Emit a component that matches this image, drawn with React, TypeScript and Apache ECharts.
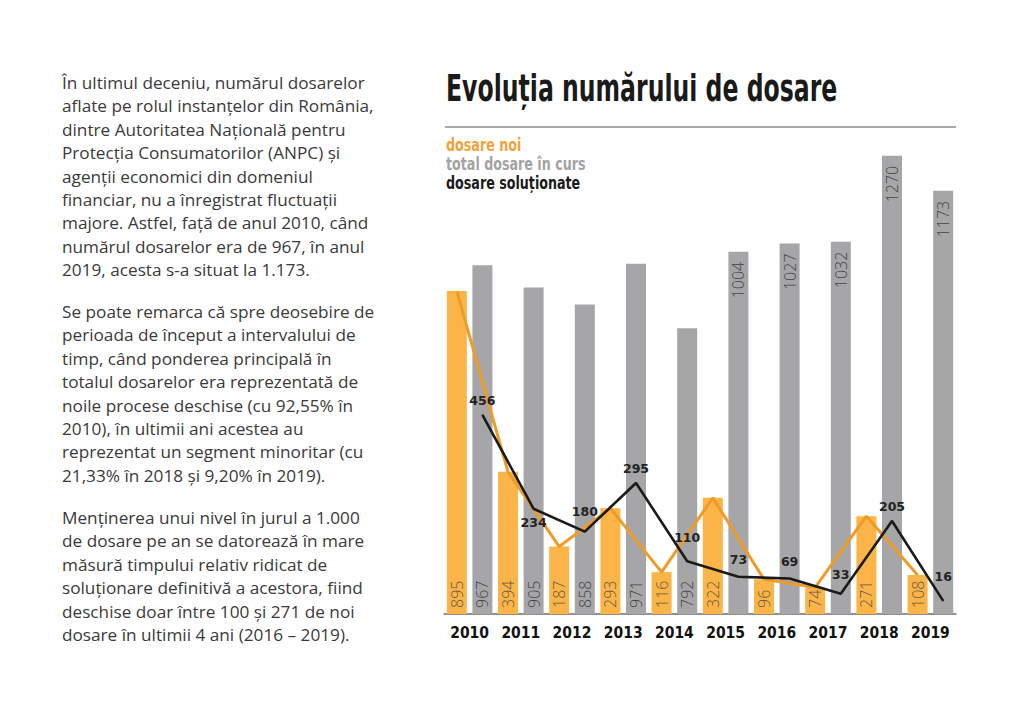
import React, { useEffect, useRef } from "react";
import * as echarts from "echarts";

const years = ["2010", "2011", "2012", "2013", "2014", "2015", "2016", "2017", "2018", "2019"];
const dosareNoi = [895, 394, 187, 293, 116, 322, 96, 74, 271, 108];
const totalInCurs = [967, 905, 858, 971, 792, 1004, 1027, 1032, 1270, 1173];
const dosareSolutionate = [456, 234, 180, 295, 110, 73, 69, 33, 205, 16];

const titleText = "Evoluția numărului de dosare";
const legendTexts = ["dosare noi", "total dosare în curs", "dosare soluționate"];

const paragraphs = [
  [
    "În ultimul deceniu, numărul dosarelor",
    "aflate pe rolul instanțelor din România,",
    "dintre Autoritatea Națională pentru",
    "Protecția Consumatorilor (ANPC) și",
    "agenții economici din domeniul",
    "financiar, nu a înregistrat fluctuații",
    "majore. Astfel, față de anul 2010, când",
    "numărul dosarelor era de 967, în anul",
    "2019, acesta s-a situat la 1.173.",
  ],
  [
    "Se poate remarca că spre deosebire de",
    "perioada de început a intervalului de",
    "timp, când ponderea principală în",
    "totalul dosarelor era reprezentată de",
    "noile procese deschise (cu 92,55% în",
    "2010), în ultimii ani acestea au",
    "reprezentat un segment minoritar (cu",
    "21,33% în 2018 și 9,20% în 2019).",
  ],
  [
    "Menținerea unui nivel în jurul a 1.000",
    "de dosare pe an se datorează în mare",
    "măsură timpului relativ ridicat de",
    "soluționare definitivă a acestora, fiind",
    "deschise doar între 100 și 271 de noi",
    "dosare în ultimii 4 ani (2016 – 2019).",
  ],
];

// styling helpers (not data)
const blackLabelDistance = [7, 7, 13, 8, 17, 10, 10, 12, 8, 17];
const blackLabelPos = ["top", "bottom", "top", "top", "top", "top", "top", "top", "top", "top"];

const ORANGE = "#fbb447";
const ORANGE_LINE = "#ef9b28";
const GRAY = "#a6a6a8";
const NARROW = "'DejaVu Sans Condensed', 'DejaVu Sans', sans-serif";
const BODY = "'Open Sans', 'Noto Sans', sans-serif";

export default function App() {
  const ref = useRef<HTMLDivElement>(null);

  useEffect(() => {
    if (!ref.current) return;
    const chart = echarts.init(ref.current, undefined, { renderer: "svg" });

    const slots: string[] = [];
    years.forEach((y) => {
      slots.push(y + "-n");
      slots.push(y + "-t");
    });

    const orangeBars = slots.map((_, i) => (i % 2 === 0 ? dosareNoi[i / 2] : "-"));
    const grayBars = slots.map((_, i) => {
      if (i % 2 === 0) return "-";
      const v = totalInCurs[(i - 1) / 2];
      if (v >= 1000) {
        return { value: v, label: { position: "insideTop", align: "right", distance: 10 } };
      }
      return v;
    });
    const orangeLine = slots.map((_, i) => (i % 2 === 0 ? dosareNoi[i / 2] : "-"));
    const blackLine = slots.map((_, i) => {
      if (i % 2 === 0) return "-";
      const k = (i - 1) / 2;
      return {
        value: dosareSolutionate[k],
        label: { position: blackLabelPos[k], distance: blackLabelDistance[k] },
      };
    });

    const barLabel = {
      show: true,
      position: "insideBottom",
      rotate: 90,
      align: "left",
      verticalAlign: "middle",
      distance: 6,
      fontSize: 16,
      fontFamily: BODY,
      fontWeight: 300,
    };

    const graphics: any[] = [
      {
        type: "text",
        x: 446,
        y: 88,
        scaleX: 0.69,
        style: {
          text: titleText,
          font: `bold 38px ${NARROW}`,
          fill: "#1a1a1a",
          textVerticalAlign: "middle",
        },
      },
      {
        type: "line",
        shape: { x1: 445, y1: 127, x2: 956, y2: 127 },
        style: { stroke: "#555", lineWidth: 1.2 },
      },
    ];
    const legendColors = ["#f0a33a", "#a3a3a3", "#1a1a1a"];
    legendTexts.forEach((t, i) => {
      graphics.push({
        type: "text",
        x: 446,
        y: 146 + i * 19,
        scaleX: 0.83,
        style: {
          text: t,
          font: `bold 17px ${NARROW}`,
          fill: legendColors[i],
          textVerticalAlign: "middle",
        },
      });
    });
    const paraTops = [70.5, 299.5, 505.5];
    paragraphs.forEach((lines, p) => {
      lines.forEach((line, j) => {
        graphics.push({
          type: "text",
          x: 62,
          y: paraTops[p] + 11.7 + j * 23.45,
          style: {
            text: line,
            font: `17.2px ${BODY}`,
            fill: "#3a3a3a",
            textVerticalAlign: "middle",
          },
        });
      });
    });

    chart.setOption({
      animation: false,
      backgroundColor: "#ffffff",
      grid: { left: 444, right: 68, top: 145, bottom: 97 },
      xAxis: [
        {
          type: "category",
          data: slots,
          boundaryGap: true,
          axisLine: { show: true, lineStyle: { color: "#6d6d6d", width: 1.5 } },
          axisTick: { show: false },
          axisLabel: { show: false },
          splitLine: { show: false },
        },
        {
          type: "category",
          data: years,
          position: "bottom",
          boundaryGap: true,
          axisLine: { show: false },
          axisTick: { show: false },
          splitLine: { show: false },
          axisLabel: {
            interval: 0,
            color: "#111",
            fontFamily: NARROW,
            fontWeight: "bold",
            fontSize: 15.5,
            margin: 11,
          },
        },
      ],
      yAxis: [
        { type: "value", min: 0, max: 1300, show: false },
        { type: "value", min: -15, max: 1095, show: false },
      ],
      series: [
        {
          name: "dosare noi",
          type: "bar",
          xAxisIndex: 0,
          yAxisIndex: 0,
          data: orangeBars,
          barWidth: 20,
          barGap: "-100%",
          itemStyle: { color: ORANGE },
          label: { ...barLabel, color: "#6a5a44" },
          z: 2,
        },
        {
          name: "total dosare în curs",
          type: "bar",
          xAxisIndex: 0,
          yAxisIndex: 0,
          data: grayBars,
          barWidth: 20,
          barGap: "-100%",
          itemStyle: { color: GRAY },
          label: { ...barLabel, color: "#454545" },
          z: 2,
        },
        {
          name: "dosare noi (linie)",
          type: "line",
          xAxisIndex: 0,
          yAxisIndex: 0,
          data: orangeLine,
          connectNulls: true,
          symbol: "none",
          lineStyle: { color: ORANGE_LINE, width: 3 },
          z: 3,
        },
        {
          name: "dosare soluționate",
          type: "line",
          xAxisIndex: 0,
          yAxisIndex: 1,
          data: blackLine,
          connectNulls: true,
          symbol: "circle",
          symbolSize: 1,
          showSymbol: true,
          itemStyle: { color: "#1a1a1a" },
          lineStyle: { color: "#1a1a1a", width: 2.6 },
          label: {
            show: true,
            fontFamily: "'DejaVu Sans', Verdana, sans-serif",
            fontWeight: "bold",
            fontSize: 12.5,
            color: "#222",
          },
          z: 4,
        },
      ],
      graphic: graphics,
    });

    return () => chart.dispose();
  }, []);

  return (
    <div
      ref={ref}
      style={{ position: "fixed", left: 0, top: 0, width: 1024, height: 711, background: "#fff" }}
    />
  );
}
